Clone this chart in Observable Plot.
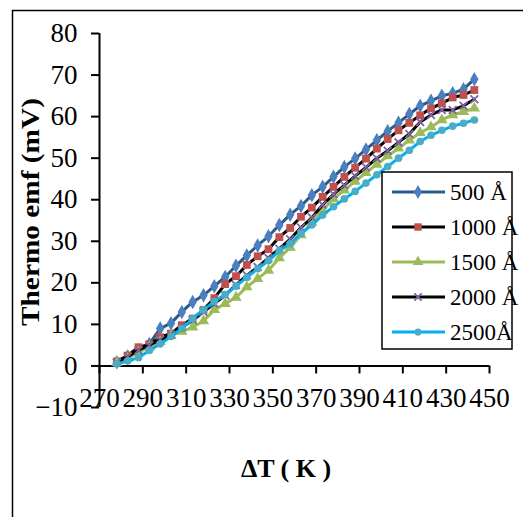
<!DOCTYPE html>
<html>
<head>
<meta charset="utf-8">
<script src="https://cdn.jsdelivr.net/npm/d3@7"></script>
<script src="https://cdn.jsdelivr.net/npm/@observablehq/plot@0.6"></script>
<style>
  html, body { margin: 0; padding: 0; background: #fff; overflow: hidden; }
  #chart { position: relative; width: 523px; height: 517px; overflow: hidden; }
  #chart svg { max-width: none !important; display: block; }
</style>
</head>
<body>
<div id="chart"></div>
<script>
// ---- data ----
const temps = [278,283,288,293,298,303,308,313,318,323,328,333,338,343,348,353,358,363,368,373,378,383,388,393,398,403,408,413,418,423,428,433,438,443];
const s500  = [0.9,2.3,3.8,5.3,9.0,10.3,13.0,15.4,17.0,19.2,21.4,24.1,26.6,29.0,31.2,33.9,36.4,38.5,41.1,43.1,45.5,47.9,49.9,52.1,54.3,56.5,58.5,60.6,62.6,63.8,65.0,65.6,66.6,69.0];
const s1000 = [1.1,2.5,4.5,5.2,6.9,7.8,9.8,11.4,13.5,16.3,19.7,21.6,24.3,26.4,28.1,31.0,33.2,35.9,38.1,40.7,43.1,45.5,47.7,49.9,52.3,54.6,56.7,58.5,60.3,62.0,63.2,64.6,65.2,66.4];
const s1500 = [0.8,1.8,3.3,4.5,5.8,7.3,8.3,9.3,10.8,13.5,15.0,16.5,19.0,21.0,23.0,26.0,28.5,31.5,34.5,37.5,40.2,42.3,44.4,46.5,48.5,50.5,52.4,54.3,56.1,57.5,59.2,60.4,61.2,62.0];
const s2000 = [0.8,2.2,3.8,5.0,6.3,7.5,9.3,11.0,13.0,15.0,17.0,19.5,21.8,23.8,26.0,28.2,30.5,33.3,35.7,38.8,41.3,43.5,45.7,47.8,50.0,51.8,53.8,55.8,58.7,60.4,61.6,61.6,62.6,64.2];
const s2500 = [0.5,1.2,2.0,3.7,5.3,7.1,9.0,11.4,13.5,15.5,17.2,19.2,21.3,23.4,25.3,27.7,29.4,31.9,33.9,36.3,38.3,40.2,42.0,44.0,46.0,48.0,50.0,51.9,54.0,55.5,56.7,57.7,58.4,59.2];
const seriesNames = ["500 Å","1000 Å","1500 Å","2000 Å","2500Å"];
const xTicks = [270,290,310,330,350,370,390,410,430,450];
const yTicks = [-10,0,10,20,30,40,50,60,70,80];
const xTitle = "ΔT ( K )";
const yTitle = "Thermo emf (mV)";

// ---- styles ----
const styles = [
  {line:"#2B5A8C", mark:"#4A7FC0", symbol:"diamond", r:4.4, stroke:false},
  {line:"#000000", mark:"#C0504D", symbol:"square", r:4.4, stroke:false},
  {line:"#9BBB59", mark:"#9BBB59", symbol:"triangle", r:4.2, stroke:false},
  {line:"#000000", mark:"#8064A2", symbol:"times", r:3.6, stroke:true},
  {line:"#00B0F0", mark:"#4BACC6", symbol:"circle", r:3.8, stroke:false}
];
const allSeries = [s500, s1000, s1500, s2000, s2500];
const rows = [];
allSeries.forEach((vals, i) => vals.forEach((v, j) => rows.push({series: seriesNames[i], t: temps[j], v})));

const W = 523, H = 517;
const mL = 99, mR = 34, mT = 33, mB = 110;
const yDomain = [-10, 80];
const xAxisShift = -(H - mT - mB) * (0 - yDomain[0]) / (yDomain[1] - yDomain[0]);
const FONT = "'Liberation Serif','Times New Roman',serif";

const marks = [
  Plot.ruleX([270], {stroke: "black", strokeWidth: 2}),
  Plot.ruleY([0], {stroke: "black", strokeWidth: 2}),
  Plot.axisY(yTicks, {tickSize: 8, tickPadding: 14, label: null, strokeWidth: 2, fontSize: 27, fill: "black"}),
  Plot.axisX(xTicks, {tickSize: 8, tickPadding: 14, label: null, strokeWidth: 2, fontSize: 27, fill: "black", dy: xAxisShift})
];
seriesNames.forEach((name, i) => {
  const st = styles[i];
  const data = rows.filter(d => d.series === name);
  marks.push(Plot.line(data, {x: "t", y: "v", stroke: st.line, strokeWidth: 3}));
  if (st.stroke) {
    marks.push(Plot.dot(data, {x: "t", y: "v", symbol: st.symbol, r: st.r, stroke: st.mark, strokeWidth: 1.8}));
  } else {
    marks.push(Plot.dot(data, {x: "t", y: "v", symbol: st.symbol, r: st.r, fill: st.mark, stroke: "none"}));
  }
});

const plot = Plot.plot({
  width: W, height: H,
  marginLeft: mL, marginRight: mR, marginTop: mT, marginBottom: mB,
  x: {domain: [270, 450]},
  y: {domain: yDomain},
  style: {fontFamily: FONT, fontSize: "27px", color: "black", background: "white"},
  marks
});

const svg = d3.select(plot);
// outer frame (left and top edges visible)
svg.append("path").attr("d", "M12.5,517 V10.5 H523").attr("fill", "none").attr("stroke", "black").attr("stroke-width", 1.5);

// axis titles
svg.append("text").text(xTitle)
  .attr("x", 286).attr("y", 477).attr("text-anchor", "middle")
  .attr("font-family", FONT).attr("font-weight", "bold").attr("font-size", 26).attr("fill", "black");
svg.append("text").text(yTitle)
  .attr("transform", "translate(39,212) rotate(-90)").attr("text-anchor", "middle")
  .attr("font-family", FONT).attr("font-weight", "bold").attr("font-size", 26).attr("fill", "black")
  .attr("textLength", 228).attr("lengthAdjust", "spacingAndGlyphs");

// legend
const lg = svg.append("g").attr("text-anchor", "start");
lg.append("rect").attr("x", 382).attr("y", 172).attr("width", 130).attr("height", 177)
  .attr("fill", "white").attr("stroke", "black").attr("stroke-width", 1.5);
const sym = {diamond: d3.symbolDiamond, square: d3.symbolSquare, triangle: d3.symbolTriangle, times: d3.symbolTimes || d3.symbolCross, circle: d3.symbolCircle};
seriesNames.forEach((name, i) => {
  const st = styles[i];
  const cy = 192 + i * 35;
  lg.append("line").attr("x1", 392).attr("x2", 445).attr("y1", cy).attr("y2", cy)
    .attr("stroke", st.line).attr("stroke-width", 3);
  const path = d3.symbol().type(sym[st.symbol]).size(st.r * st.r * Math.PI * 0.9)();
  const p = lg.append("path").attr("d", path).attr("transform", `translate(418,${cy})`);
  if (st.stroke) p.attr("fill", "none").attr("stroke", st.mark).attr("stroke-width", 1.8);
  else p.attr("fill", st.mark);
  lg.append("text").text(name).attr("x", 450).attr("y", cy).attr("dy", "0.35em").attr("text-anchor", "start")
    .attr("font-family", FONT).attr("font-size", 23).attr("fill", "black");
});

document.getElementById("chart").appendChild(plot);
</script>
</body>
</html>
